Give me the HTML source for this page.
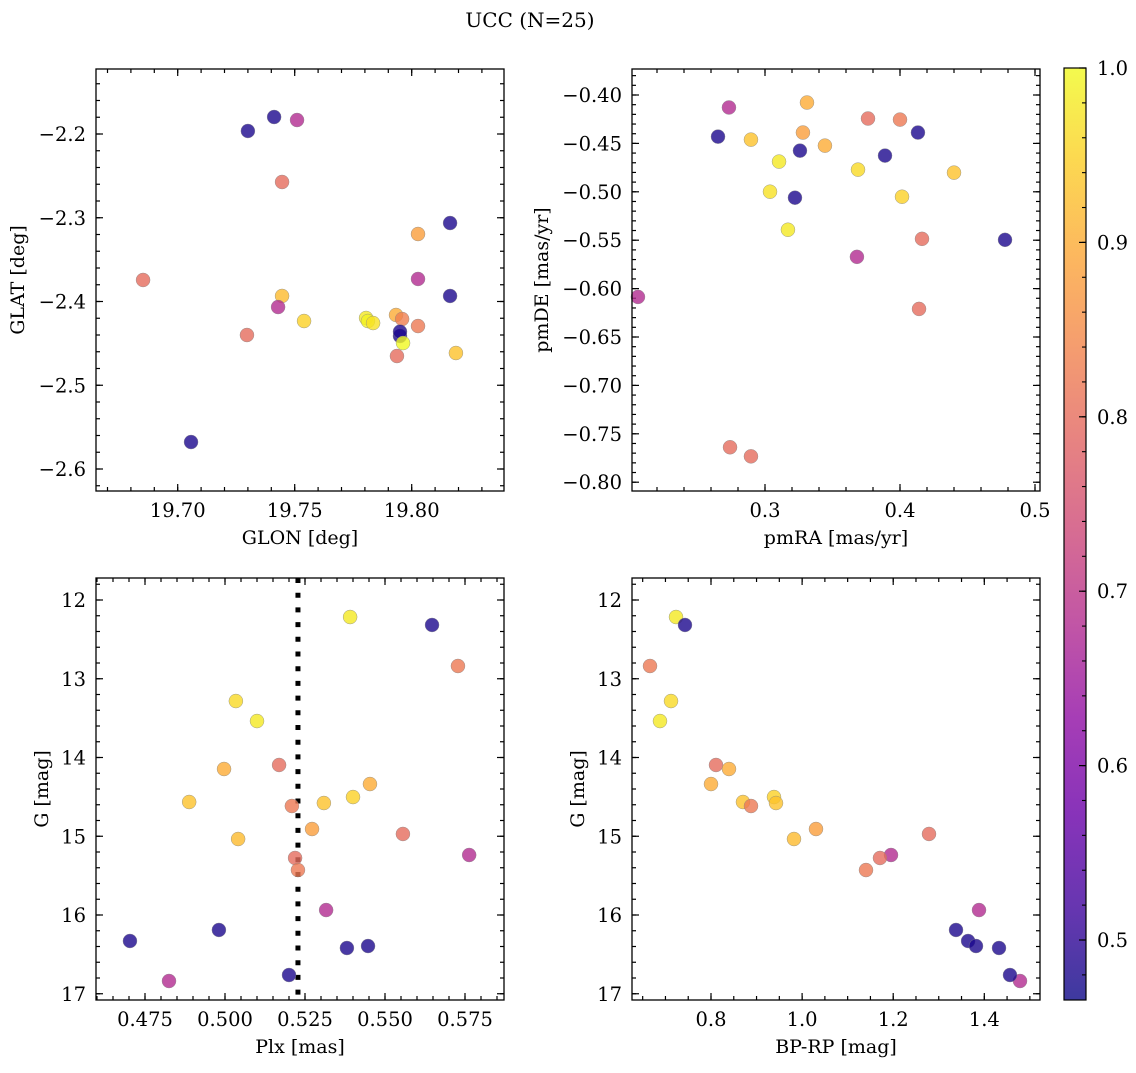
<!DOCTYPE html>
<html><head><meta charset="utf-8"><style>
html,body{margin:0;padding:0;background:#fff;}
svg text{font-family:"DejaVu Serif","Liberation Serif",serif;fill:#000;}
</style></head><body>
<svg id="fig" width="1136" height="1068" viewBox="0 0 1136 1068" xmlns="http://www.w3.org/2000/svg">
<defs>
<linearGradient id="plasma" x1="0" y1="1" x2="0" y2="0"></linearGradient>
</defs>
<text x="530" y="27" font-size="20" text-anchor="middle">UCC (N=25)</text>
</svg>
<script>
// ---- data ----
const p1GLON=[19.7300,19.7412,19.7510,19.7446,19.8164,19.8027,19.6852,19.8027,19.8164,19.7446,19.7429,19.7540,19.7805,19.7813,19.7835,19.7933,19.7959,19.8027,19.7950,19.7950,19.7963,19.8189,19.7937,19.7296,19.7057];
const p1GLAT=[-2.1964,-2.1797,-2.1833,-2.2573,-2.3063,-2.3194,-2.3743,-2.3731,-2.3934,-2.3934,-2.4066,-2.4233,-2.4197,-2.4233,-2.4257,-2.4161,-2.4209,-2.4293,-2.4412,-2.4360,-2.4496,-2.4615,-2.4651,-2.4400,-2.5678];
const p1Prob=[0.48,0.48,0.68,0.80,0.48,0.88,0.80,0.68,0.48,0.92,0.68,0.95,0.98,0.99,0.97,0.90,0.83,0.82,0.48,0.48,1.0,0.93,0.80,0.80,0.48];

const p2pmRA=[0.3311,0.2733,0.3763,0.4000,0.4133,0.2652,0.3281,0.2896,0.3444,0.3259,0.3889,0.3104,0.3689,0.4400,0.3037,0.4015,0.3222,0.3170,0.4778,0.4163,0.3681,0.2059,0.4141,0.2741,0.2896];
const p2pmDE=[-0.4078,-0.4129,-0.4243,-0.4254,-0.4388,-0.4430,-0.4388,-0.4461,-0.4523,-0.4575,-0.4626,-0.4688,-0.4771,-0.4802,-0.4999,-0.5051,-0.5061,-0.5392,-0.5496,-0.5486,-0.5672,-0.6086,-0.6210,-0.7639,-0.7733];
const p2Prob=[0.90,0.68,0.80,0.82,0.48,0.48,0.88,0.93,0.90,0.48,0.48,0.98,0.96,0.93,0.97,0.95,0.48,0.98,0.48,0.80,0.68,0.68,0.80,0.80,0.80];

const p3Plx=[0.5391,0.5647,0.5728,0.5034,0.5100,0.4997,0.5169,0.5453,0.5400,0.4888,0.5309,0.5209,0.5272,0.5556,0.5041,0.5763,0.5219,0.5228,0.5316,0.4981,0.4703,0.5447,0.5381,0.4825,0.5200];
const p3G=[12.216,12.317,12.838,13.283,13.537,14.146,14.095,14.337,14.502,14.565,14.578,14.616,14.908,14.971,15.035,15.238,15.276,15.429,15.937,16.190,16.330,16.394,16.419,16.838,16.762];
const p3Prob=[0.98,0.48,0.82,0.96,0.98,0.90,0.80,0.90,0.95,0.93,0.93,0.82,0.88,0.80,0.92,0.68,0.80,0.82,0.68,0.48,0.48,0.48,0.48,0.68,0.48];
const plxLine=[0.5228];

const p4BPRP=[0.7232,0.7429,0.6661,0.7122,0.6880,0.8110,0.8395,0.8000,0.9383,0.8702,0.9427,0.8878,1.0305,1.2786,0.9822,1.1952,1.1710,1.1403,1.3884,1.3379,1.3644,1.3818,1.4323,1.4784,1.4564];
const p4G=[12.216,12.317,12.838,13.283,13.537,14.095,14.146,14.337,14.502,14.565,14.578,14.616,14.908,14.971,15.035,15.238,15.276,15.429,15.937,16.190,16.330,16.394,16.419,16.838,16.762];
const p4Prob=[0.98,0.48,0.82,0.96,0.98,0.80,0.90,0.90,0.95,0.93,0.93,0.82,0.88,0.80,0.92,0.68,0.80,0.82,0.68,0.48,0.48,0.48,0.48,0.68,0.48];

const cbTicks=[0.5,0.6,0.7,0.8,0.9,1.0];
const cbMin=0.4656, cbMax=1.0;

// ---- helpers ----
const NS="http://www.w3.org/2000/svg";
const fig=document.getElementById('fig');
function mk(tag,attrs,parent){const e=document.createElementNS(NS,tag);for(const k in attrs)e.setAttribute(k,attrs[k]);(parent||fig).appendChild(e);return e;}
const plasmaStops=[[0,'#0d0887'],[0.1,'#41049d'],[0.2,'#6a00a8'],[0.3,'#8f0da4'],[0.4,'#b12a90'],[0.5,'#cc4778'],[0.6,'#e16462'],[0.7,'#f2844b'],[0.8,'#fca636'],[0.9,'#fcce25'],[1,'#f0f921']];
function hex(h){return [1,3,5].map(i=>parseInt(h.substr(i,2),16));}
function plasma(t){t=Math.max(0,Math.min(1,t));for(let i=1;i<plasmaStops.length;i++){if(t<=plasmaStops[i][0]){const a=plasmaStops[i-1],b=plasmaStops[i];const f=(t-a[0])/(b[0]-a[0]);const ca=hex(a[1]),cb=hex(b[1]);return 'rgb('+ca.map((v,j)=>Math.round(v+(cb[j]-v)*f)).join(',')+')';}}return plasmaStops[10][1];}
const grad=document.getElementById('plasma');
plasmaStops.forEach(s=>mk('stop',{offset:s[0],'stop-color':s[1]},grad));

function fmt(v,d){const s=Math.abs(v).toFixed(d);return (v<0?'\u2212':'')+s;}

function panel(o){
  const g=mk('g',{});
  
  
  const sx=v=>o.x0+(v-o.xmin)/(o.xmax-o.xmin)*(o.x1-o.x0);
  const sy=o.yinv? v=>o.y0+(v-o.ymin)/(o.ymax-o.ymin)*(o.y1-o.y0) : v=>o.y1-(v-o.ymin)/(o.ymax-o.ymin)*(o.y1-o.y0);
  const tg=mk('g',{stroke:'#000','stroke-width':1.2},g);
  function ticksX(step,len,labels){
    const s=Math.ceil(o.xmin/step-1e-9);for(let k=s;k*step<=o.xmax+1e-9;k++){const v=k*step;const x=sx(v);
      mk('line',{x1:x,y1:o.y1,x2:x,y2:o.y1-len},tg);mk('line',{x1:x,y1:o.y0,x2:x,y2:o.y0+len},tg);
      if(labels){const t=mk('text',{x:x,y:o.y1+26,'font-size':19.5,'text-anchor':'middle'},g);t.textContent=fmt(v,o.xd);}}
  }
  function ticksY(step,len,labels){
    const lo=Math.min(o.ymin,o.ymax),hi=Math.max(o.ymin,o.ymax);
    const s=Math.ceil(lo/step-1e-9);for(let k=s;k*step<=hi+1e-9;k++){const v=k*step;const y=sy(v);
      mk('line',{x1:o.x0,y1:y,x2:o.x0+len,y2:y},tg);mk('line',{x1:o.x1,y1:y,x2:o.x1-len,y2:y},tg);
      if(labels){const t=mk('text',{x:o.x0-10,y:y+7,'font-size':19.5,'text-anchor':'end'},g);t.textContent=fmt(v,o.yd);}}
  }
  ticksX(o.xmin_step,4,false);ticksX(o.xstep,7,true);
  ticksY(o.ymin_step,4,false);ticksY(o.ystep,7,true);
  if(o.vline){o.vline.forEach(v=>{const l=mk('line',{x1:sx(v),y1:o.y0,x2:sx(v),y2:o.y1,stroke:'#000','stroke-width':5,'stroke-dasharray':'5 9.7'},g);});}
  for(let i=0;i<o.xs.length;i++){
    const c=mk('circle',{cx:sx(o.xs[i]),cy:sy(o.ys[i]),r:7,fill:plasma((o.cs[i]-cbMin)/(cbMax-cbMin)),'fill-opacity':0.8,stroke:'#888','stroke-width':0.5,'stroke-opacity':0.8},g);
    
    
  }
  const fr=mk('rect',{x:o.x0,y:o.y0,width:o.x1-o.x0,height:o.y1-o.y0,fill:'none',stroke:'#000','stroke-width':1.3},g);
  
  const xl=mk('text',{x:(o.x0+o.x1)/2,y:o.y1+53,'font-size':19,'text-anchor':'middle'},g);xl.textContent=o.xlabel;
  
  const yc=(o.y0+o.y1)/2;
  const yl=mk('text',{x:o.ylx,y:yc,'font-size':19,'text-anchor':'middle',transform:'rotate(-90 '+o.ylx+' '+yc+')'},g);yl.textContent=o.ylabel;
  
}

panel({name:'glon-glat-panel',x0:96,x1:504,y0:69,y1:491,xmin:19.70-81.7/2340,xmax:19.70+326.3/2340,ymin:-2.2-357/837.5,ymax:-2.2+65/837.5,
  xstep:0.05,xmin_step:0.01,ystep:0.1,ymin_step:0.02,xd:2,yd:1,xs:p1GLON,ys:p1GLAT,cs:p1Prob,xlabel:'GLON [deg]',ylabel:'GLAT [deg]',ylx:24});
panel({name:'pm-panel',x0:632,x1:1040,y0:69,y1:491,xmin:0.3-133/1350,xmax:0.3+275/1350,ymin:-0.40-396/968,ymax:-0.40+26/968,
  xstep:0.1,xmin_step:0.02,ystep:0.05,ymin_step:0.01,xd:1,yd:2,xs:p2pmRA,ys:p2pmDE,cs:p2Prob,xlabel:'pmRA [mas/yr]',ylabel:'pmDE [mas/yr]',ylx:548});
panel({name:'plx-g-panel',x0:96,x1:504,y0:578,y1:1000,xmin:0.525-209/3200,xmax:0.525+199/3200,ymin:12-22/78.75,ymax:12+400/78.75,yinv:true,
  xstep:0.025,xmin_step:0.005,ystep:1,ymin_step:0.2,xd:3,yd:0,xs:p3Plx,ys:p3G,cs:p3Prob,vline:plxLine,xlabel:'Plx [mas]',ylabel:'G [mag]',ylx:48});
panel({name:'cmd-panel',x0:632,x1:1040,y0:578,y1:1000,xmin:0.8-79/455.5,xmax:0.8+329/455.5,ymin:12-22/78.75,ymax:12+400/78.75,yinv:true,
  xstep:0.2,xmin_step:0.05,ystep:1,ymin_step:0.2,xd:1,yd:0,xs:p4BPRP,ys:p4G,cs:p4Prob,xlabel:'BP-RP [mag]',ylabel:'G [mag]',ylx:584});

// colorbar
const cb=mk('g',{});


const cbx0=1064,cbx1=1086,cby0=68,cby1=1000;
mk('rect',{x:cbx0,y:cby0,width:cbx1-cbx0,height:cby1-cby0,fill:'url(#plasma)','fill-opacity':0.8},cb);
mk('rect',{x:cbx0,y:cby0,width:cbx1-cbx0,height:cby1-cby0,fill:'none',stroke:'#000','stroke-width':1.2},cb);
const cy=v=>cby1-(v-cbMin)/(cbMax-cbMin)*(cby1-cby0);
for(let k=24;k<=50;k++){const v=k*0.02;if(v<cbMin)continue;mk('line',{x1:cbx1,y1:cy(v),x2:cbx1-4,y2:cy(v),stroke:'#000','stroke-width':1.1},cb);}
cbTicks.forEach(v=>{mk('line',{x1:cbx1,y1:cy(v),x2:cbx1-7,y2:cy(v),stroke:'#000','stroke-width':1.2},cb);
  const t=mk('text',{x:cbx1+11,y:cy(v)+7,'font-size':19.5},cb);t.textContent=v.toFixed(1);
  
  });
</script>
</body></html>
